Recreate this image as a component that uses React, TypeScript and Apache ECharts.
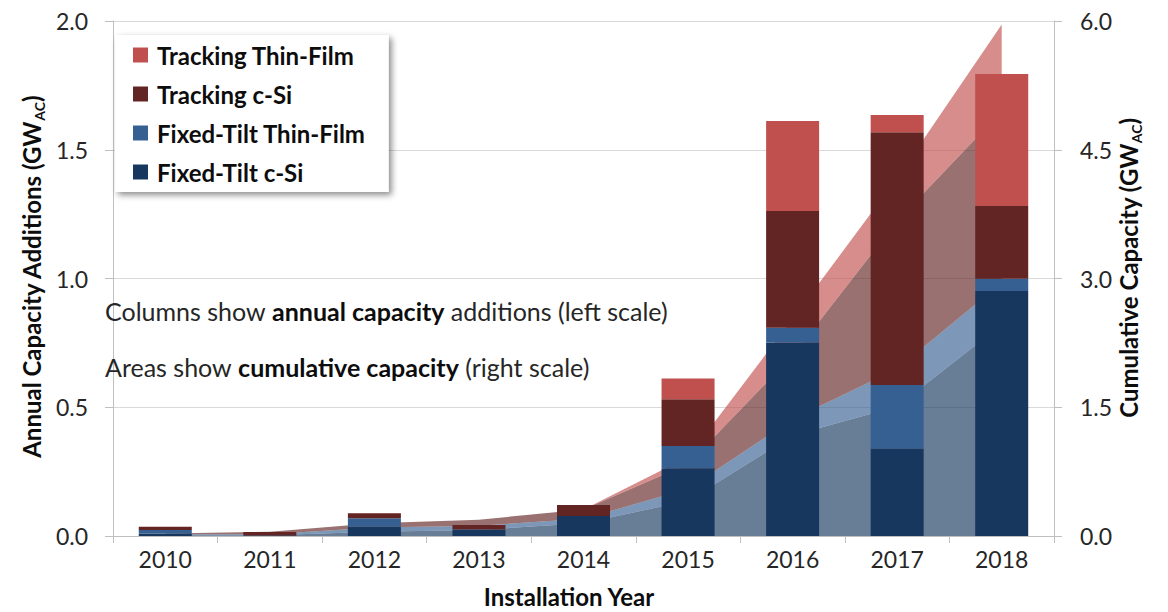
import React, { useEffect, useRef } from "react";
import * as echarts from "echarts";

const years = ["2010", "2011", "2012", "2013", "2014", "2015", "2016", "2017", "2018"];

// Annual capacity additions (GW-AC), left scale
const fixedCSi = [0.010, 0.002, 0.036, 0.023, 0.078, 0.263, 0.751, 0.340, 0.951];
const fixedThinFilm = [0.013, 0.000, 0.033, 0.002, 0.000, 0.087, 0.058, 0.246, 0.048];
const trackingCSi = [0.013, 0.014, 0.019, 0.018, 0.042, 0.181, 0.453, 0.982, 0.283];
const trackingThinFilm = [0.000, 0.000, 0.000, 0.000, 0.000, 0.081, 0.350, 0.067, 0.512];

// Cumulative capacity (GW-AC), right scale
const cumFixedCSi = [0.01, 0.01, 0.05, 0.07, 0.15, 0.41, 1.17, 1.51, 2.46];
const cumFixedThinFilm = [0.01, 0.01, 0.05, 0.05, 0.05, 0.14, 0.19, 0.44, 0.49];
const cumTrackingCSi = [0.01, 0.03, 0.05, 0.07, 0.11, 0.29, 0.74, 1.72, 2.00];
const cumTrackingThinFilm = [0.00, 0.00, 0.00, 0.00, 0.00, 0.08, 0.43, 0.50, 1.01];

const leftTicks = { min: 0, max: 2, interval: 0.5 };
const rightTicks = { min: 0, max: 6, interval: 1.5 };

const names = {
  fixedCSi: "Fixed-Tilt c-Si",
  fixedTF: "Fixed-Tilt Thin-Film",
  trackCSi: "Tracking c-Si",
  trackTF: "Tracking Thin-Film",
};

const colors = {
  fixedCSi: "#17375e",
  fixedTF: "#376092",
  trackCSi: "#632523",
  trackTF: "#c0504d",
};

const FONT = "Lato, 'Open Sans', sans-serif";

export default function App() {
  const ref = useRef<HTMLDivElement>(null);

  useEffect(() => {
    if (!ref.current) return;
    const chart = echarts.init(ref.current, undefined, { renderer: "svg" });

    const areaSeries = (name: string, data: number[], color: string) => ({
      name: name + " (cumulative)",
      type: "line",
      yAxisIndex: 1,
      stack: "cum",
      data,
      symbol: "none",
      showSymbol: false,
      lineStyle: { width: 0 },
      areaStyle: { color, opacity: 0.65 },
      itemStyle: { color },
      z: 1,
      silent: true,
    });

    const barSeries = (name: string, data: number[], color: string) => ({
      name,
      type: "bar",
      yAxisIndex: 0,
      stack: "annual",
      data,
      barWidth: 53,
      itemStyle: { color },
      z: 3,
    });

    const axisLabelStyle = { fontFamily: FONT, fontSize: 23, color: "#262626" };
    const subRich = {
      b: { fontFamily: FONT, fontWeight: "bold", fontSize: 24, fill: "#0d0d0d", lineHeight: 30 },
      s: { fontFamily: FONT, fontWeight: "bold", fontSize: 14, fill: "#0d0d0d", lineHeight: 14, verticalAlign: "bottom" },
    };
    const noteRich = {
      n: { fontFamily: FONT, fontSize: 25, fill: "#262626" },
      b: { fontFamily: FONT, fontSize: 25, fontWeight: "bold", fill: "#0d0d0d" },
    };

    chart.setOption({
      animation: false,
      backgroundColor: "#ffffff",
      grid: { left: 113, right: 114, top: 21, bottom: 76, containLabel: false },
      legend: {
        data: [names.trackTF, names.trackCSi, names.fixedTF, names.fixedCSi],
        orient: "vertical",
        left: 115,
        top: 35,
        icon: "rect",
        itemWidth: 15,
        itemHeight: 15,
        itemGap: 15,
        selectedMode: false,
        backgroundColor: "#ffffff",
        shadowColor: "rgba(0,0,0,0.45)",
        shadowBlur: 6,
        shadowOffsetX: 3,
        shadowOffsetY: 3,
        padding: [8, 23, 8, 18],
        textStyle: {
          fontFamily: FONT,
          fontWeight: "bold",
          fontSize: 24,
          lineHeight: 24,
          color: "#0d0d0d",
          padding: [0, 0, 0, 4],
        },
      },
      xAxis: {
        type: "category",
        data: years,
        boundaryGap: true,
        axisLine: { lineStyle: { color: "#bfbfbf", width: 1 } },
        axisTick: { show: true, length: 7, lineStyle: { color: "#bfbfbf" } },
        axisLabel: { ...axisLabelStyle, margin: 11 },
      },
      yAxis: [
        {
          type: "value",
          position: "left",
          ...leftTicks,
          axisLine: { show: true, lineStyle: { color: "#bfbfbf" } },
          axisTick: { show: true, length: 8, lineStyle: { color: "#bfbfbf" } },
          axisLabel: { ...axisLabelStyle, margin: 25, formatter: (v: number) => v.toFixed(1) },
          splitLine: { show: true, lineStyle: { color: "#d9d9d9", width: 1 } },
        },
        {
          type: "value",
          position: "right",
          ...rightTicks,
          axisLine: { show: true, lineStyle: { color: "#bfbfbf" } },
          axisTick: { show: true, length: 8, lineStyle: { color: "#bfbfbf" } },
          axisLabel: { ...axisLabelStyle, margin: 26, formatter: (v: number) => v.toFixed(1) },
          splitLine: { show: false },
        },
      ],
      graphic: [
        {
          type: "text",
          x: 31,
          y: 277,
          rotation: Math.PI / 2,
          z: 10,
          style: {
            text: "{b|Annual Capacity Additions (GW}{s|AC}{b|)}",
            rich: subRich,
            textAlign: "center",
            textVerticalAlign: "middle",
          },
        },
        {
          type: "text",
          x: 1128,
          y: 268,
          rotation: Math.PI / 2,
          z: 10,
          style: {
            text: "{b|Cumulative Capacity (GW}{s|AC}{b|)}",
            rich: subRich,
            textAlign: "center",
            textVerticalAlign: "middle",
          },
        },
        {
          type: "text",
          x: 569,
          y: 596,
          z: 10,
          style: {
            text: "Installation Year",
            fontFamily: FONT,
            fontWeight: "bold",
            fontSize: 24,
            fill: "#0d0d0d",
            textAlign: "center",
            textVerticalAlign: "middle",
          },
        },
        {
          type: "text",
          x: 105,
          y: 311,
          z: 10,
          style: {
            text: "{n|Columns show }{b|annual capacity}{n| additions (left scale)}",
            rich: noteRich,
            textAlign: "left",
            textVerticalAlign: "middle",
          },
        },
        {
          type: "text",
          x: 105,
          y: 367,
          z: 10,
          style: {
            text: "{n|Areas show }{b|cumulative capacity}{n| (right scale)}",
            rich: noteRich,
            textAlign: "left",
            textVerticalAlign: "middle",
          },
        },
      ],
      series: [
        areaSeries(names.fixedCSi, cumFixedCSi, colors.fixedCSi),
        areaSeries(names.fixedTF, cumFixedThinFilm, colors.fixedTF),
        areaSeries(names.trackCSi, cumTrackingCSi, colors.trackCSi),
        areaSeries(names.trackTF, cumTrackingThinFilm, colors.trackTF),
        barSeries(names.fixedCSi, fixedCSi, colors.fixedCSi),
        barSeries(names.fixedTF, fixedThinFilm, colors.fixedTF),
        barSeries(names.trackCSi, trackingCSi, colors.trackCSi),
        barSeries(names.trackTF, trackingThinFilm, colors.trackTF),
      ],
    });

    return () => chart.dispose();
  }, []);

  return (
    <div
      ref={ref}
      style={{ position: "fixed", left: 0, top: 0, width: 1168, height: 612, background: "#fff" }}
    />
  );
}
